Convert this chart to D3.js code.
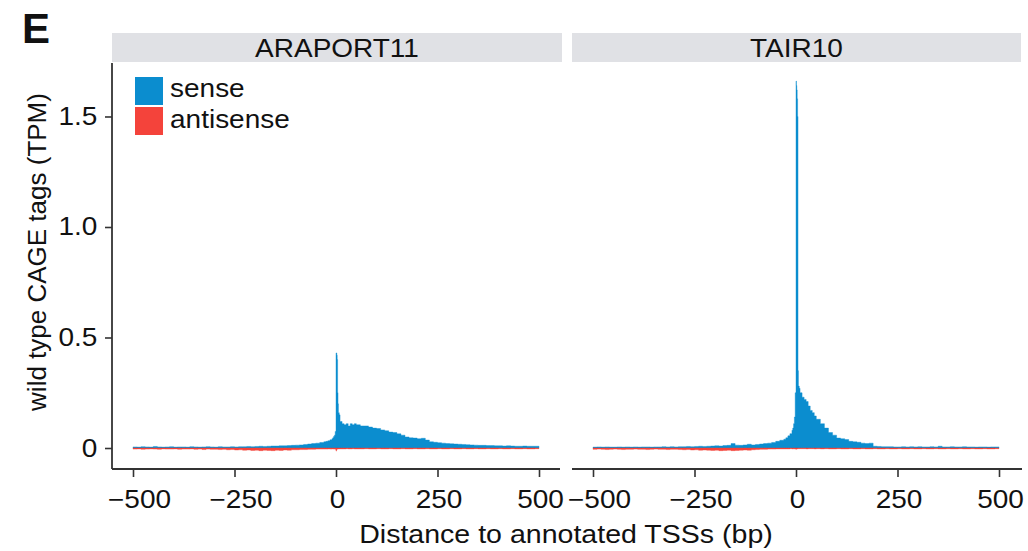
<!DOCTYPE html>
<html>
<head>
<meta charset="utf-8">
<script src="https://cdn.jsdelivr.net/npm/d3@7"></script>
<style>
  body { margin: 0; background: #fff; }
  text { font-family: "Liberation Sans", Arial, sans-serif; fill: #111; }
</style>
</head>
<body>
<div id="chart"></div>
<script>
// bin starts (bp); the last bin ends at binEnd
const binStart = [
  -500,-490,-480,-470,-460,-450,-440,-430,-420,-410,
  -400,-390,-380,-370,-360,-350,-340,-330,-320,-310,
  -300,-290,-280,-270,-260,-250,-240,-230,-220,-210,
  -200,-190,-180,-170,-160,-150,-140,-130,-120,-110,
  -100,-90,-80,-70,-60,-50,-40,
  -30,-25,-20,-15,-10,
  -8,-6,-4,-2,
  0,1,2,3,4,5,6,
  8,10,
  15,20,25,30,35,40,45,50,
  60,70,80,90,100,110,120,130,140,150,
  160,170,180,190,200,210,220,230,240,250,
  260,270,280,290,300,310,320,330,340,350,
  360,370,380,390,400,410,420,430,440,450,
  460,470,480,490
];
const binEnd = 500;

const araportSense = [
  .005,.004,.006,.005,.004,.007,.005,.004,.005,.006,
  .004,.005,.005,.004,.006,.005,.004,.005,.006,.005,
  .004,.006,.005,.005,.006,.005,.006,.006,.007,.006,
  .007,.008,.007,.008,.009,.009,.010,.010,.011,.012,
  .013,.014,.016,.018,.020,.022,.025,
  .028,.030,.033,.037,.042,
  .046,.052,.058,.075,
  .43,.43,.42,.40,.25,.20,.16,
  .15,.12,
  .11,.105,.11,.10,.11,.105,.11,.105,
  .10,.10,.095,.09,.088,.082,.078,.072,.07,.064,
  .058,.05,.046,.045,.042,.044,.036,.028,.026,.024,
  .022,.02,.019,.018,.017,.016,.015,.014,.013,.012,
  .012,.011,.011,.010,.010,.009,.010,.009,.008,.008,
  .009,.008,.008,.008
];
const araportAntisense = [
  -.005,-.004,-.006,-.005,-.004,-.005,-.006,-.004,-.005,-.005,
  -.004,-.006,-.005,-.005,-.004,-.006,-.005,-.007,-.005,-.006,
  -.006,-.007,-.006,-.008,-.007,-.009,-.008,-.010,-.009,-.011,
  -.010,-.012,-.010,-.011,-.012,-.010,-.011,-.009,-.010,-.008,
  -.008,-.007,-.007,-.006,-.006,-.005,-.005,
  -.005,-.005,-.004,-.005,-.004,
  -.004,-.005,-.004,-.006,
  -.014,-.010,-.006,-.005,-.005,-.004,-.004,
  -.004,-.004,
  -.004,-.004,-.003,-.004,-.004,-.003,-.004,-.004,
  -.004,-.003,-.004,-.004,-.003,-.004,-.004,-.003,-.004,-.004,
  -.003,-.004,-.004,-.003,-.004,-.004,-.003,-.004,-.004,-.003,
  -.004,-.004,-.003,-.004,-.004,-.003,-.004,-.004,-.003,-.004,
  -.004,-.003,-.004,-.004,-.003,-.004,-.004,-.003,-.004,-.004,
  -.003,-.004,-.004,-.003
];
const tairSense = [
  .004,.005,.004,.005,.004,.004,.005,.004,.005,.004,
  .005,.004,.005,.005,.004,.005,.005,.006,.005,.006,
  .005,.006,.006,.007,.006,.007,.008,.007,.008,.009,
  .010,.009,.011,.012,.020,.013,.012,.014,.017,.014,
  .016,.018,.020,.022,.025,.030,.035,
  .040,.046,.055,.065,.080,
  .09,.11,.14,.25,
  1.66,1.64,1.62,1.58,1.50,.35,.28,
  .27,.25,
  .23,.22,.21,.19,.17,.16,.145,.13,
  .11,.09,.07,.058,.045,.042,.038,.030,.028,.026,
  .022,.020,.022,.008,.007,.006,.006,.006,.005,.005,
  .006,.005,.006,.005,.006,.005,.005,.006,.005,.008,
  .005,.005,.006,.005,.005,.006,.005,.005,.004,.005,
  .005,.004,.005,.005
];
const tairAntisense = [
  -.006,-.005,-.006,-.007,-.006,-.005,-.006,-.007,-.006,-.006,
  -.005,-.006,-.006,-.007,-.006,-.005,-.006,-.006,-.007,-.006,
  -.006,-.007,-.008,-.007,-.009,-.008,-.010,-.009,-.010,-.011,
  -.010,-.012,-.011,-.010,-.012,-.011,-.010,-.009,-.010,-.008,
  -.007,-.006,-.006,-.005,-.005,-.004,-.004,
  -.004,-.004,-.004,-.003,-.004,
  -.004,-.003,-.004,-.005,
  -.006,-.005,-.004,-.004,-.003,-.003,-.003,
  -.003,-.003,
  -.003,-.003,-.004,-.003,-.003,-.003,-.004,-.003,
  -.004,-.003,-.004,-.004,-.003,-.004,-.004,-.003,-.004,-.004,
  -.003,-.004,-.004,-.003,-.004,-.004,-.003,-.004,-.004,-.003,
  -.004,-.004,-.003,-.004,-.004,-.003,-.004,-.004,-.003,-.004,
  -.004,-.003,-.004,-.004,-.003,-.004,-.004,-.003,-.004,-.004,
  -.003,-.004,-.004,-.003
];

const panelNames = ["ARAPORT11", "TAIR10"];
const seriesNames = ["sense", "antisense"];
const xTicks = [-500, -250, 0, 250, 500];
const yTicks = [0, 0.5, 1.0, 1.5];

const colors = { sense: "#0b8dcf", antisense: "#f4433b" };
const axisColor = "#333";
const sx = 1.12;   // text in the figure is a bit wide

const svg = d3.select("#chart")
  .append("svg")
  .attr("width", 1028)
  .attr("height", 551);

const y = d3.scaleLinear().domain([-0.095, 1.742]).range([469, 63]);

const panels = [
  { name: panelNames[0], sense: araportSense, anti: araportAntisense,
    left: 112, right: 562, axisRight: 560, xr: [133, 539] },
  { name: panelNames[1], sense: tairSense, anti: tairAntisense,
    left: 572, right: 1021, axisRight: 1022, xr: [593, 999] }
];

const label = (sel, x, yy, txt, size, anchor) =>
  sel.append("text")
    .attr("transform", `translate(${x},${yy}) scale(${sx},1)`)
    .attr("text-anchor", anchor || "start")
    .style("font-size", size + "px")
    .text(txt);

panels.forEach((p, pi) => {
  const x = d3.scaleLinear().domain([-500, 500]).range(p.xr);
  const g = svg.append("g");

  // strip
  g.append("rect")
    .attr("x", p.left).attr("y", 33)
    .attr("width", p.right - p.left).attr("height", 29)
    .attr("fill", "#e0e1e5");
  label(g, (p.left + p.right) / 2, 57, p.name, 25, "middle");

  const pts = vals => binStart.map((s, i) => [s, vals[i]])
    .concat([[binEnd, vals[vals.length - 1]]]);

  const area = d3.area()
    .curve(d3.curveStepAfter)
    .x(d => x(d[0]))
    .y0(y(0))
    .y1(d => y(d[1]));

  g.append("path").datum(pts(p.sense))
    .attr("d", area)
    .attr("fill", colors.sense)
    .attr("stroke", colors.sense)
    .attr("stroke-width", 0.4);

  g.append("path").datum(pts(p.anti))
    .attr("d", area)
    .attr("fill", colors.antisense)
    .attr("stroke", colors.antisense)
    .attr("stroke-width", 0.4);

  // x axis
  const xa = g.append("g")
    .attr("transform", "translate(0,469)")
    .call(d3.axisBottom(x).tickValues(xTicks).tickSize(8).tickPadding(13).tickSizeOuter(0));
  xa.select(".domain").remove();
  xa.selectAll("line").attr("stroke", axisColor).attr("stroke-width", 1.6);
  xa.selectAll("text")
    .attr("transform", d => `translate(${d < 0 ? 6 : 1},0) scale(${sx},1)`)
    .style("font-size", "25px")
    .attr("fill", "#111");
  g.append("line")
    .attr("x1", p.left).attr("x2", p.axisRight)
    .attr("y1", 469).attr("y2", 469)
    .attr("stroke", axisColor).attr("stroke-width", 1.8);

  if (pi === 0) {
    const ya = g.append("g")
      .attr("transform", `translate(${p.left},0)`)
      .call(d3.axisLeft(y).tickValues(yTicks).tickSize(7).tickPadding(6).tickSizeOuter(0)
        .tickFormat(d => d === 0 ? "0" : d3.format(".1f")(d)));
    ya.select(".domain").remove();
    ya.selectAll("line").attr("stroke", axisColor).attr("stroke-width", 1.6);
    ya.selectAll("text")
      .attr("transform", `scale(${sx},1)`)
      .style("font-size", "25px")
      .attr("fill", "#111");
    g.append("line")
      .attr("x1", p.left).attr("x2", p.left)
      .attr("y1", 63).attr("y2", 469)
      .attr("stroke", axisColor).attr("stroke-width", 1.8);

    // legend
    const lg = g.append("g");
    seriesNames.forEach((s, i) => {
      lg.append("rect")
        .attr("x", 135).attr("y", 77 + i * 30)
        .attr("width", 28).attr("height", 28)
        .attr("fill", colors[s]);
      label(lg, 170, 97 + i * 31, s, 25);
    });
  }
});

// axis titles
label(svg, 566, 543, "Distance to annotated TSSs (bp)", 25.5, "middle");
svg.append("text")
  .attr("transform", "translate(46,252) rotate(-90)")
  .attr("text-anchor", "middle")
  .style("font-size", "26px")
  .text("wild type CAGE tags (TPM)");

// panel letter
svg.append("text")
  .attr("x", 22).attr("y", 43)
  .style("font-size", "42px")
  .style("font-weight", "bold")
  .text("E");
</script>
</body>
</html>
